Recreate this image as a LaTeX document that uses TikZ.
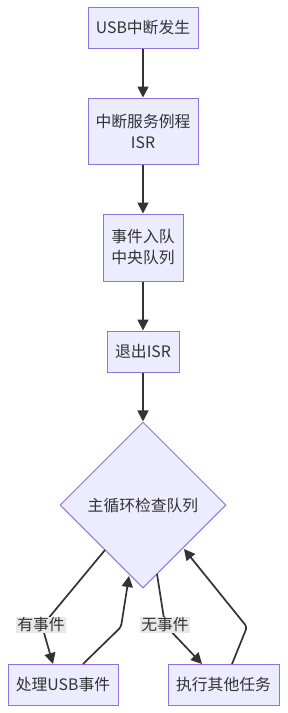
\documentclass[tikz,border=0pt]{standalone}
\usepackage{fontspec}
\setmainfont{Noto Sans CJK SC}
\usetikzlibrary{arrows.meta,shapes.geometric}
\definecolor{nodefill}{HTML}{ECECFF}
\definecolor{nodeline}{HTML}{9370DB}
\definecolor{txt}{HTML}{333333}
\definecolor{lblbg}{HTML}{E8E8E8}
\begin{document}
\begin{tikzpicture}[x=1pt,y=-1pt,
  every node/.style={font=\fontsize{15.8}{21}\selectfont, text=txt},
  box/.style={draw=nodeline, fill=nodefill, line width=1pt, inner sep=0pt, align=center},
  dia/.style={diamond, draw=nodeline, fill=nodefill, line width=1pt, inner sep=0pt, aspect=1, minimum width=166pt, minimum height=166pt},
  conn/.style={draw=txt, line width=1.7pt, -{Triangle[length=11pt,width=11pt]}, rounded corners=3pt},
  lbl/.style={fill=lblbg, inner sep=1pt}
]
\useasboundingbox (0,0) rectangle (287,713);
\node[box, minimum width=110pt, minimum height=41pt] (b1) at (143,27.5) {USB中断发生};
\node[box, minimum width=110pt, minimum height=66pt] (b2) at (143,131) {中断服务例程\\ISR};
\node[box, minimum width=80pt, minimum height=67pt] (b3) at (143,247.5) {事件入队\\中央队列};
\node[box, minimum width=72pt, minimum height=41pt] (b4) at (143,351.5) {退出ISR};
\node[dia] (d) at (143,505) {主循环检查队列};
\node[box, minimum width=110pt, minimum height=41pt] (L) at (63,684.5) {处理USB事件};
\node[box, minimum width=111pt, minimum height=41pt] (R) at (223.5,684.5) {执行其他任务};

\coordinate (dl) at (105,550);
\coordinate (lb) at (42,626);
\coordinate (lt) at (53,664);
\coordinate (ls) at (83,664);
\coordinate (lm) at (121,627);
\coordinate (dbl) at (129,576);
\coordinate (dr) at (157,574);
\coordinate (rb) at (165,625);
\coordinate (rt) at (202,664);
\coordinate (rs) at (232,664);
\coordinate (rm) at (247,627);
\coordinate (dbr) at (184,549);

\draw[conn] (b1) -- (b2);
\draw[conn] (b2) -- (b3);
\draw[conn] (b3) -- (b4);
\draw[conn] (b4) -- (d);
\draw[conn] (dl) -- (lb) -- (lt);
\draw[conn] (ls) -- (lm) -- (dbl);
\draw[conn] (dr) -- (rb) -- (rt);
\draw[conn] (rs) -- (rm) -- (dbr);
\node[lbl] (l1) at (41,625) {有事件};
\node[lbl] (l2) at (165,625) {无事件};
\end{tikzpicture}
\end{document}
